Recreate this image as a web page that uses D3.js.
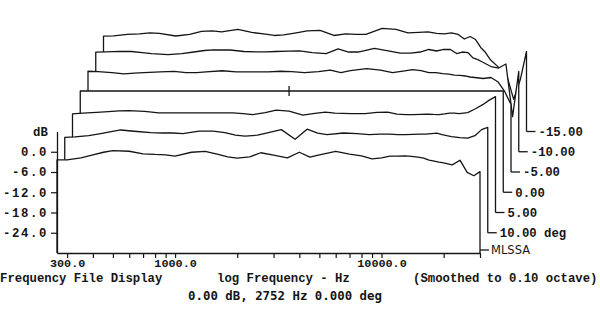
<!DOCTYPE html>
<html>
<head>
<meta charset="utf-8">
<script src="https://cdn.jsdelivr.net/npm/d3@7/dist/d3.min.js"></script>
<style>
  html, body { margin: 0; padding: 0; background: #fff; }
  svg { display: block; }
</style>
</head>
<body>
<svg id="chart" width="600" height="328"></svg>
<script>
// ---------- data ----------
const freqs = [268,300,350,400,450,500,600,700,800,900,1000,1200,1400,1600,1800,2000,2300,2600,3000,3500,4000,4500,5000,6000,7000,8000,9000,10000,11000,12000,13000,14000,15000,16000,17000,18000,19000,20000,22000,24000,26000,28000,30000];

// front (MLSSA) trace
const traceFront = [-2.4,-2.4,-1.8,-0.9,-0.15,0.35,0.15,-0.6,-0.8,-0.9,-1.3,-0.15,0.1,-0.7,-1.5,-1.9,-1.5,-0.3,-1.0,-1.8,-0.15,-1.6,-0.9,0.1,-0.7,-1.2,-2.1,-1.8,-1.3,-1.3,-1.2,-1.4,-1.6,-1.9,-2.5,-2.8,-3.1,-3.3,-3.9,-2.5,-6.1,-7.1,-5.9];
// 10 deg
const trace10 = [-1.75,-1.6,-1.25,-0.65,-0.05,0.45,0.0,-0.35,-0.45,-0.45,-0.65,0.1,0.1,-0.35,-1.1,-1.35,-1.1,-0.35,0.55,-2.3,0.7,-0.5,-0.95,-0.45,-0.65,-0.95,-0.8,-0.75,-0.9,-0.95,-0.85,-0.8,-0.75,-0.6,-0.5,-0.95,-1.25,-1.5,-1.8,-1.95,-1.25,0.55,1.2];
// 5 deg
const trace5 = [-0.8,-0.55,-0.35,-0.1,0.1,0.2,-0.05,-0.5,-0.5,-0.5,-0.5,-0.5,-0.5,-0.5,-0.7,-1.0,-0.4,0.35,0.05,-1.15,-0.65,-0.25,-0.55,-0.7,-0.7,-0.35,-0.25,-0.85,-1.0,-1.0,-0.9,-0.85,-0.95,-1.0,-0.8,-0.55,-0.55,-0.7,-0.4,0.75,1.95,3.3,4.35];
// 0 deg (reference, flat)
const trace0 = [0,0,0,0,0,0,0,0,0,0,0,0,0,0,0,0,0,0,0,0,0,0,0,0,0,0,0,0,0,0,0,0,0,0,0,0,0,0,0,0,0,0,0];
// -5 deg
const traceM5 = [-0.15,-0.25,-0.55,-0.9,-0.7,-0.55,-0.35,-0.2,-0.55,-0.55,-0.35,0.0,-0.35,-0.35,-0.35,-0.35,-0.15,-0.25,-0.55,-0.25,0.2,-0.55,0.05,0.65,0.2,-0.55,-0.1,0.35,0.05,-0.55,-0.55,-0.85,-1.0,-1.3,-1.4,-1.55,-1.85,-2.0,-2.3,-2.0,-3.35,-6.2,-10.0];
// -10 deg
const traceM10 = [-0.5,-0.4,-0.25,-0.3,-0.6,-0.9,-1.2,-0.9,-0.45,0.0,0.2,0.15,-0.3,-0.4,-0.4,-0.3,-0.2,-0.1,-0.6,-0.9,0.45,-0.45,-0.45,0.6,-0.1,-0.75,-0.75,-0.45,0.3,-0.15,0.3,0.3,-0.9,-0.45,-0.6,-2.2,-2.7,-3.4,-4.75,-5.2,-4.0,-19.6,-6.2];
// -15 deg
const traceM15 = [-1.75,-1.65,-1.25,-1.05,-0.8,-0.9,-1.7,-1.25,-0.35,-0.2,-0.5,0.25,-0.65,-1.1,-1.55,-1.4,-0.75,-0.2,-0.05,-1.55,-1.1,-1.25,-1.25,0.55,0.25,-0.8,-0.65,-0.5,-0.9,-1.1,-0.8,-1.25,-2.6,-1.85,-2.75,-5.1,-6.6,-8.65,-11.0,-13.1,-20.5,-14.6,-6.3];

const seriesValues = [traceFront, trace10, trace5, trace0, traceM5, traceM10, traceM15];
const seriesLabels = ["MLSSA", "10.00 deg", "5.00", "0.00", "-5.00", "-10.00", "-15.00"];

const xTickValues = [300,400,500,600,700,800,900,1000,2000,3000,4000,5000,6000,7000,8000,9000,10000,20000,30000];
const xTickLabels = {300: "300.0", 1000: "1000.0", 10000: "10000.0"};
const yTickValues = [0, -6, -12, -18, -24];

const cursorFreq = 2752;
const footerLeft = "Frequency File Display";
const footerMid = "log Frequency - Hz";
const footerRight = "(Smoothed to 0.10 octave)";
const cursorText = "0.00 dB, 2752 Hz 0.000 deg";

// ---------- layout ----------
const MONO = "'Liberation Mono', 'DejaVu Sans Mono', monospace";
const INK = "#151515";
const svg = d3.select("#chart");
const x = d3.scaleLog().domain([268, 30000]).range([57, 480]);
const y = d3.scaleLinear().domain([-30, 6]).range([253, 131.5]);
const stepX = 7.75;
const stepY = y(-6) - y(0); // 6 dB per trace step (pixels)

const line = d3.line().curve(d3.curveLinear);

function label(sel, size) {
  return sel.style("font-family", MONO).style("font-weight", "bold")
            .style("font-size", size + "px").style("fill", INK);
}

// draw back to front with white fills for hidden-line removal
for (let i = seriesValues.length - 1; i >= 0; i--) {
  const ox = i * stepX, oy = -i * stepY;
  const vals = seriesValues[i];
  const pts = freqs.map((f, k) => [x(f) + ox, y(vals[k]) + oy]);
  const baseY = y(-30) + oy;
  const x0 = pts[0][0], xN = pts[pts.length - 1][0];
  const poly = [[x0, baseY], ...pts, [xN, baseY]];
  svg.append("path").attr("d", line(poly) + "Z").attr("fill", "#fff").attr("stroke", "none");
  svg.append("path").attr("d", line(poly)).attr("fill", "none")
     .attr("stroke", INK).attr("stroke-width", 1.3).attr("stroke-linejoin", "round");

  // right-hand label
  const ly = i === 0 ? baseY - 3 : baseY;
  svg.append("line").attr("x1", xN).attr("x2", xN + 9).attr("y1", ly).attr("y2", ly)
     .attr("stroke", INK).attr("stroke-width", 1.3);
  const t = svg.append("text").attr("x", xN + 12).attr("y", ly).attr("dy", "0.36em")
     .text(seriesLabels[i]);
  if (i === 0) {
    t.style("font-family", "'DejaVu Sans', sans-serif").style("font-weight", "normal")
     .style("font-size", "11.5px").style("fill", INK).attr("x", xN + 11);
  } else {
    label(t, 12.3);
  }

  // cursor mark on the 0 deg trace
  if (i === 3) {
    const cx = x(cursorFreq) + ox, cy = y(0) + oy;
    svg.append("line").attr("x1", cx).attr("x2", cx).attr("y1", cy - 5).attr("y2", cy + 5)
       .attr("stroke", INK).attr("stroke-width", 1.3);
  }
}

// ---------- axes ----------
const xAxis = d3.axisBottom(x).tickValues(xTickValues)
  .tickFormat(d => xTickLabels[d] || "").tickSizeInner(5).tickSizeOuter(0).tickPadding(1);
const gx = svg.append("g").attr("transform", `translate(0,${y(-30)})`).call(xAxis);
gx.select(".domain").attr("stroke", INK).attr("stroke-width", 1.3);
gx.selectAll(".tick line").attr("stroke", INK).attr("stroke-width", 1.2);
label(gx.selectAll(".tick text"), 11.8);

const yAxis = d3.axisLeft(y).tickValues(yTickValues)
  .tickFormat(d => d.toFixed(1)).tickSizeInner(6).tickSizeOuter(0).tickPadding(3);
const gy = svg.append("g").attr("transform", `translate(57,0)`).call(yAxis);
gy.select(".domain").attr("stroke", INK).attr("stroke-width", 1.3);
gy.selectAll(".tick line").attr("stroke", INK).attr("stroke-width", 1.2);
label(gy.selectAll(".tick text"), 12.3).style("letter-spacing", "1.6px");

label(svg.append("text").attr("x", 33).attr("y", 131.5).attr("dy", "0.36em").text("dB"), 12.3);

// ---------- footer texts ----------
label(svg.append("text").attr("x", 0).attr("y", 278).attr("dy", "0.36em").text(footerLeft), 12.3);
label(svg.append("text").attr("x", 217).attr("y", 278).attr("dy", "0.36em").text(footerMid), 12.3);
label(svg.append("text").attr("x", 413).attr("y", 278).attr("dy", "0.36em").text(footerRight), 12.3);
label(svg.append("text").attr("x", 188).attr("y", 296).attr("dy", "0.36em").text(cursorText), 12.3)
  .style("font-family", "'DejaVu Sans Mono', monospace").style("font-size", "12.4px");
</script>
</body>
</html>
